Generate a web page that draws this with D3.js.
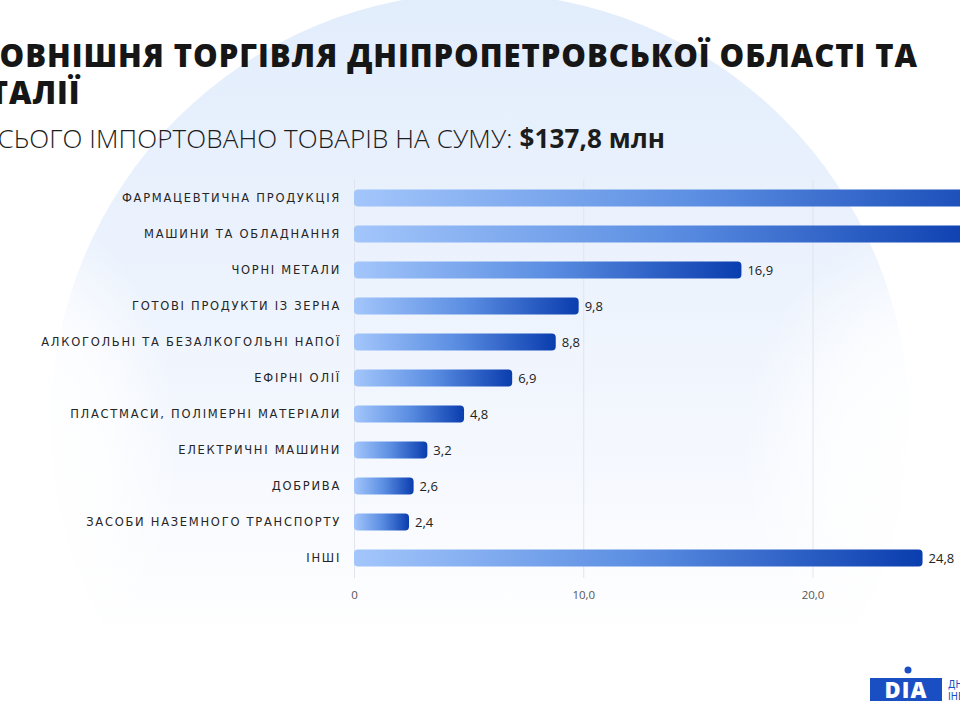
<!DOCTYPE html>
<html>
<head>
<meta charset="utf-8">
<script src="https://cdn.jsdelivr.net/npm/d3@7"></script>
<style>
  html, body { margin: 0; padding: 0; background: #fff; }
  svg { display: block; font-family: "Open Sans", "DejaVu Sans", sans-serif; }
</style>
</head>
<body>
<svg width="960" height="720"></svg>
<script>
const CATEGORIES = [
    "ФАРМАЦЕВТИЧНА ПРОДУКЦІЯ",
    "МАШИНИ ТА ОБЛАДНАННЯ",
    "ЧОРНІ МЕТАЛИ",
    "ГОТОВІ ПРОДУКТИ ІЗ ЗЕРНА",
    "АЛКОГОЛЬНІ ТА БЕЗАЛКОГОЛЬНІ НАПОЇ",
    "ЕФІРНІ ОЛІЇ",
    "ПЛАСТМАСИ, ПОЛІМЕРНІ МАТЕРІАЛИ",
    "ЕЛЕКТРИЧНІ МАШИНИ",
    "ДОБРИВА",
    "ЗАСОБИ НАЗЕМНОГО ТРАНСПОРТУ",
    "ІНШІ"
];
// млн $; first two run past the right edge in the picture, estimated from the 137,8 total
const VALUES = [30.1, 27.5, 16.9, 9.8, 8.8, 6.9, 4.8, 3.2, 2.6, 2.4, 24.8];
const TICKS = [0, 10, 20, 30];
const TICK_LABELS = ["0", "10,0", "20,0", "30,0"];

const TITLE_LINES = ["ЗОВНІШНЯ ТОРГІВЛЯ ДНІПРОПЕТРОВСЬКОЇ ОБЛАСТІ ТА", "ІТАЛІЇ"];
const SUBTITLE = "ВСЬОГО ІМПОРТОВАНО ТОВАРІВ НА СУМУ: ";
const SUBTITLE_VALUE = "$137,8 млн";

var svg = d3.select("svg"),
    width = +svg.attr("width"),
    height = +svg.attr("height");

var defs = svg.append("defs");

var bg = defs.append("linearGradient").attr("id", "bg")
    .attr("x1", 0).attr("y1", 0).attr("x2", 0).attr("y2", 1);
bg.append("stop").attr("offset", "0%").attr("stop-color", "#e2edfc");
bg.append("stop").attr("offset", "30%").attr("stop-color", "#ebf2fd");
bg.append("stop").attr("offset", "55%").attr("stop-color", "#f5f8fe");
bg.append("stop").attr("offset", "75%").attr("stop-color", "#ffffff");

var glow = defs.append("radialGradient").attr("id", "glow");
glow.append("stop").attr("offset", "0%").attr("stop-color", "#fff").attr("stop-opacity", 1);
glow.append("stop").attr("offset", "55%").attr("stop-color", "#fff").attr("stop-opacity", 0.8);
glow.append("stop").attr("offset", "100%").attr("stop-color", "#fff").attr("stop-opacity", 0);

var barGrad = defs.append("linearGradient").attr("id", "bar")
    .attr("x1", 0).attr("y1", 0).attr("x2", 1).attr("y2", 0);
barGrad.append("stop").attr("offset", "0%").attr("stop-color", "#a3c6fb");
barGrad.append("stop").attr("offset", "50%").attr("stop-color", "#5b8ee2");
barGrad.append("stop").attr("offset", "100%").attr("stop-color", "#0a3dae");

svg.append("rect").attr("width", width).attr("height", height).attr("fill", "#fff");
svg.append("circle").attr("cx", 480).attr("cy", 422).attr("r", 429).attr("fill", "url(#bg)");
svg.append("ellipse").attr("cx", 940).attr("cy", 460).attr("rx", 200).attr("ry", 240).attr("fill", "url(#glow)");
svg.append("ellipse").attr("cx", 20).attr("cy", 460).attr("rx", 160).attr("ry", 260).attr("fill", "url(#glow)");

// fit letter-spacing so a text reaches a given width
function fitSpacing(sel, target) {
    var node = sel.node();
    var w = node.getComputedTextLength();
    var n = node.textContent.length;
    var ls = (target - w) / (n - 1);
    sel.style("letter-spacing", ls + "px");
    return ls;
}

// title
var t1 = svg.append("text")
    .attr("x", -22).attr("y", 67)
    .attr("font-size", 31).attr("font-weight", 800).attr("fill", "#161616")
    .text(TITLE_LINES[0]);
var ls = fitSpacing(t1, 939);
svg.append("text")
    .attr("x", -22).attr("y", 104)
    .attr("font-size", 31).attr("font-weight", 800).attr("fill", "#161616")
    .style("letter-spacing", ls + "px")
    .text(TITLE_LINES[1]);

var sub = svg.append("text")
    .attr("x", -19).attr("y", 148)
    .attr("font-size", 26).attr("fill", "#1c1c1c");
sub.append("tspan").attr("font-weight", 300).text(SUBTITLE);
sub.append("tspan").attr("font-weight", 700).text(SUBTITLE_VALUE);
fitSpacing(sub, 684);

// scales
var xScale = d3.scaleLinear().domain([0, 20]).range([354, 812.5]);
var yScale = d3.scaleBand().domain(CATEGORIES).range([180, 576])
    .paddingInner(0.53).paddingOuter(0.265);

// grid + ticks
var grid = svg.append("g")
    .attr("transform", "translate(0,578)")
    .call(d3.axisBottom(xScale).tickValues(TICKS)
        .tickSize(-398).tickPadding(13)
        .tickFormat(function(d, i) { return TICK_LABELS[i]; }));
grid.select(".domain").remove();
grid.selectAll("line").attr("stroke", "#e0e5ed");
grid.selectAll("text")
    .attr("font-family", "Open Sans, sans-serif")
    .attr("font-size", 11.5).attr("fill", "#555");

var rows = CATEGORIES.map(function(c, i) { return { name: c, value: VALUES[i] }; });

svg.selectAll(".bar")
    .data(rows)
    .enter().append("rect")
    .attr("class", "bar")
    .attr("x", xScale(0))
    .attr("y", function(d) { return yScale(d.name); })
    .attr("width", function(d) { return xScale(d.value) - xScale(0); })
    .attr("height", yScale.bandwidth())
    .attr("rx", 4)
    .attr("fill", "url(#bar)");

var cats = svg.selectAll(".cat")
    .data(rows)
    .enter().append("text")
    .attr("class", "cat")
    .attr("x", 341)
    .attr("y", function(d) { return yScale(d.name) + yScale.bandwidth() / 2; })
    .attr("dy", "0.36em")
    .attr("text-anchor", "end")
    .attr("font-family", "DejaVu Sans, sans-serif")
    .attr("font-size", 11.5).attr("fill", "#262626")
    .text(function(d) { return d.name; });

// same letter-spacing for all labels, taken from the longest one
var longest = cats.filter(function(d) { return d.name === CATEGORIES[4]; });
var cls = fitSpacing(longest, 298);
cats.style("letter-spacing", cls + "px");

svg.selectAll(".val")
    .data(rows)
    .enter().append("text")
    .attr("class", "val")
    .attr("x", function(d) { return xScale(d.value) + 6; })
    .attr("y", function(d) { return yScale(d.name) + yScale.bandwidth() / 2; })
    .attr("dy", "0.36em")
    .attr("font-size", 13).attr("font-weight", 500).attr("fill", "#222")
    .text(function(d) { return d3.format(".1f")(d.value).replace(".", ","); });

// logo
var logo = svg.append("g");
logo.append("rect").attr("x", 870).attr("y", 678).attr("width", 72).attr("height", 23).attr("fill", "#1a4fc4");
logo.append("text").attr("x", 906).attr("y", 698)
    .attr("text-anchor", "middle").attr("font-size", 22).attr("font-weight", 800)
    .attr("fill", "#fff").style("letter-spacing", "1px").text("DIA");
logo.append("circle").attr("cx", 908).attr("cy", 670).attr("r", 3.5).attr("fill", "#1a4fc4");
logo.append("text").attr("x", 948).attr("y", 688)
    .attr("font-family", "Liberation Sans Narrow, DejaVu Sans Condensed, sans-serif")
    .attr("font-size", 10.5).attr("fill", "#1a4fc4").text("ДНІПРО");
logo.append("text").attr("x", 948).attr("y", 700)
    .attr("font-family", "Liberation Sans Narrow, DejaVu Sans Condensed, sans-serif")
    .attr("font-size", 10.5).attr("fill", "#1a4fc4").text("ІНВЕСТ");
</script>
</body>
</html>
